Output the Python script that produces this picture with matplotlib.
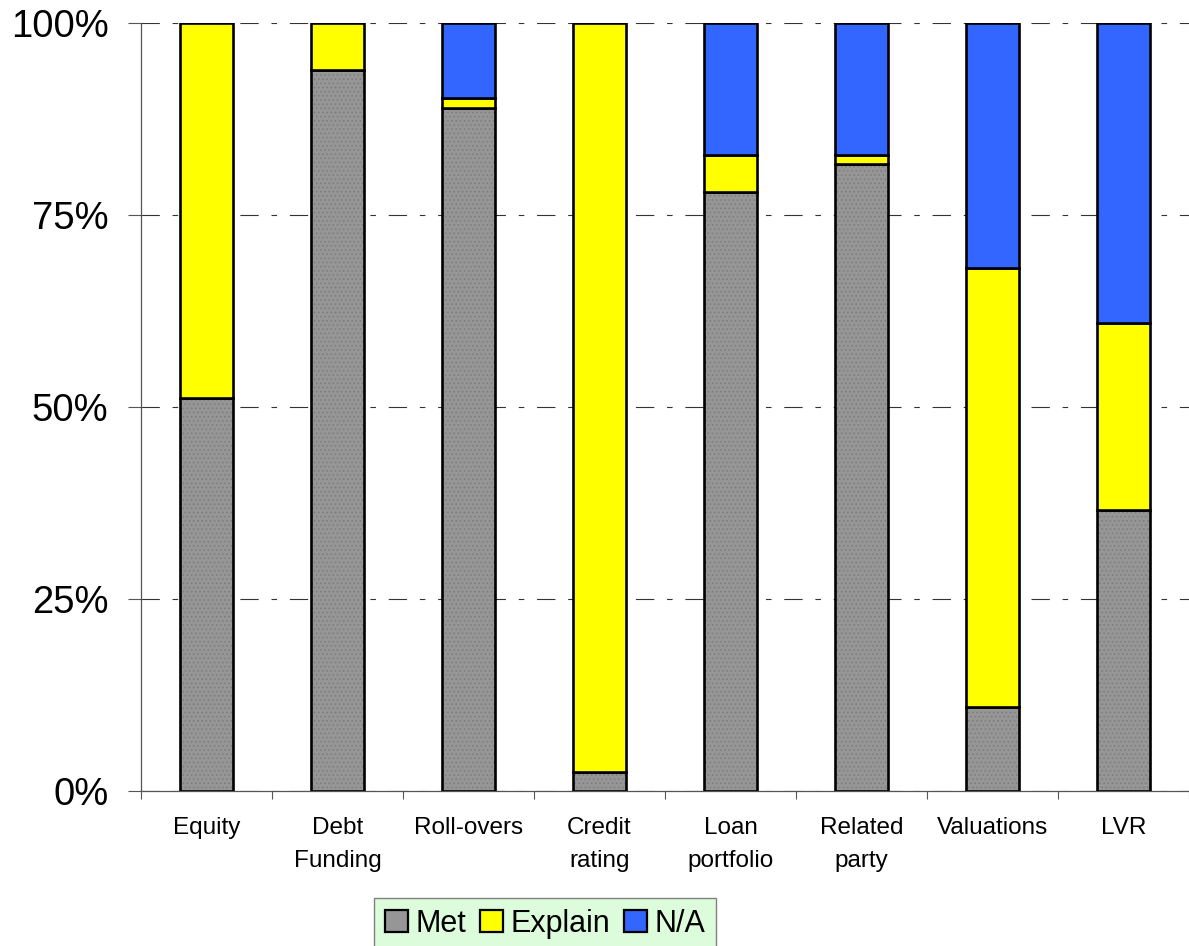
import numpy as np
import matplotlib

matplotlib.use("Agg")
import matplotlib.pyplot as plt
from matplotlib.patches import Patch
from matplotlib.ticker import FixedLocator, PercentFormatter

plt.rcParams["font.family"] = ["Liberation Sans", "DejaVu Sans"]
plt.rcParams["hatch.linewidth"] = 0.6

# ---- DATA ------------------------------------------------------------------
categories = ["Equity", "Debt\nFunding", "Roll-overs", "Credit\nrating",
              "Loan\nportfolio", "Related\nparty", "Valuations", "LVR"]
met = [51.2, 93.9, 88.9, 2.5, 78.0, 81.6, 10.9, 36.6]
explain = [48.8, 6.1, 1.3, 97.5, 4.8, 1.2, 57.2, 24.3]
na = [0.0, 0.0, 9.8, 0.0, 17.2, 17.2, 31.9, 39.1]
series_names = ["Met", "Explain", "N/A"]

# ---- STYLE -----------------------------------------------------------------
GRAY = "#969696"
YELLOW = "#ffff00"
BLUE = "#3366ff"
BAR_W = 0.40
EDGE_W = 1.9

fig = plt.figure(figsize=(11.89, 9.46), dpi=100)
ax = fig.add_axes([0.1186, 0.1638, 0.8814, 0.8119])

x = np.arange(len(categories))
met = np.array(met)
explain = np.array(explain)
na = np.array(na)

# gray segment gets a fine dot texture, outline drawn separately
ax.bar(x, met, BAR_W, color=GRAY, edgecolor="#7c7c7c", hatch="....",
       linewidth=0, zorder=3)
ax.bar(x, met, BAR_W, fill=False, edgecolor="black", linewidth=EDGE_W, zorder=4)
ax.bar(x, explain, BAR_W, bottom=met, color=YELLOW, edgecolor="black",
       linewidth=EDGE_W, zorder=4)
na_mask = na > 0
ax.bar(x[na_mask], na[na_mask], BAR_W, bottom=(met + explain)[na_mask],
       color=BLUE, edgecolor="black", linewidth=EDGE_W, zorder=4)

ax.set_xlim(-0.5, len(categories) - 0.5)
ax.set_ylim(0, 100)

# y axis
ax.set_yticks([0, 25, 50, 75, 100])
ax.yaxis.set_major_formatter(PercentFormatter(decimals=0))
ax.tick_params(axis="y", direction="out", length=9.5, width=0.8,
               color="#555555", labelsize=27.5, pad=14)
ax.yaxis.grid(True, color="#333333", linewidth=0.8,
              dashes=(16.5, 11.5, 5, 11.5), zorder=1)
ax.set_axisbelow(True)

# x axis: ticks at category boundaries, labels centred under bars
ax.xaxis.set_major_locator(FixedLocator(np.arange(len(categories) + 1) - 0.5))
ax.xaxis.set_minor_locator(FixedLocator(x))
ax.set_xticklabels([], minor=False)
ax.set_xticklabels(categories, minor=True, fontsize=17.5,
                   linespacing=1.6, va="top")
ax.tick_params(axis="x", which="major", direction="out", length=6,
               width=0.8, color="#555555")
ax.tick_params(axis="x", which="minor", length=0, pad=19)

for side in ("top", "right"):
    ax.spines[side].set_visible(False)
for side in ("left", "bottom"):
    ax.spines[side].set_color("#555555")
    ax.spines[side].set_linewidth(0.9)

handles = [
    Patch(facecolor=GRAY, edgecolor="black", linewidth=1.6, label=series_names[0]),
    Patch(facecolor=YELLOW, edgecolor="black", linewidth=1.6, label=series_names[1]),
    Patch(facecolor=BLUE, edgecolor="black", linewidth=1.6, label=series_names[2]),
]
leg = fig.legend(handles=handles, loc="upper left",
                 bbox_to_anchor=(374 / 1189, 1 - 898 / 946),
                 ncol=3, fontsize=22, frameon=True, fancybox=False,
                 handlelength=0.75, handleheight=0.75, handletextpad=0.25,
                 columnspacing=0.45, borderpad=0.35, borderaxespad=0)
leg.get_frame().set_facecolor("#dcfcdc")
leg.get_frame().set_edgecolor("#808080")
leg.get_frame().set_linewidth(1.0)
leg.get_frame().set_alpha(1)

fig.savefig("out.png", dpi=100)
